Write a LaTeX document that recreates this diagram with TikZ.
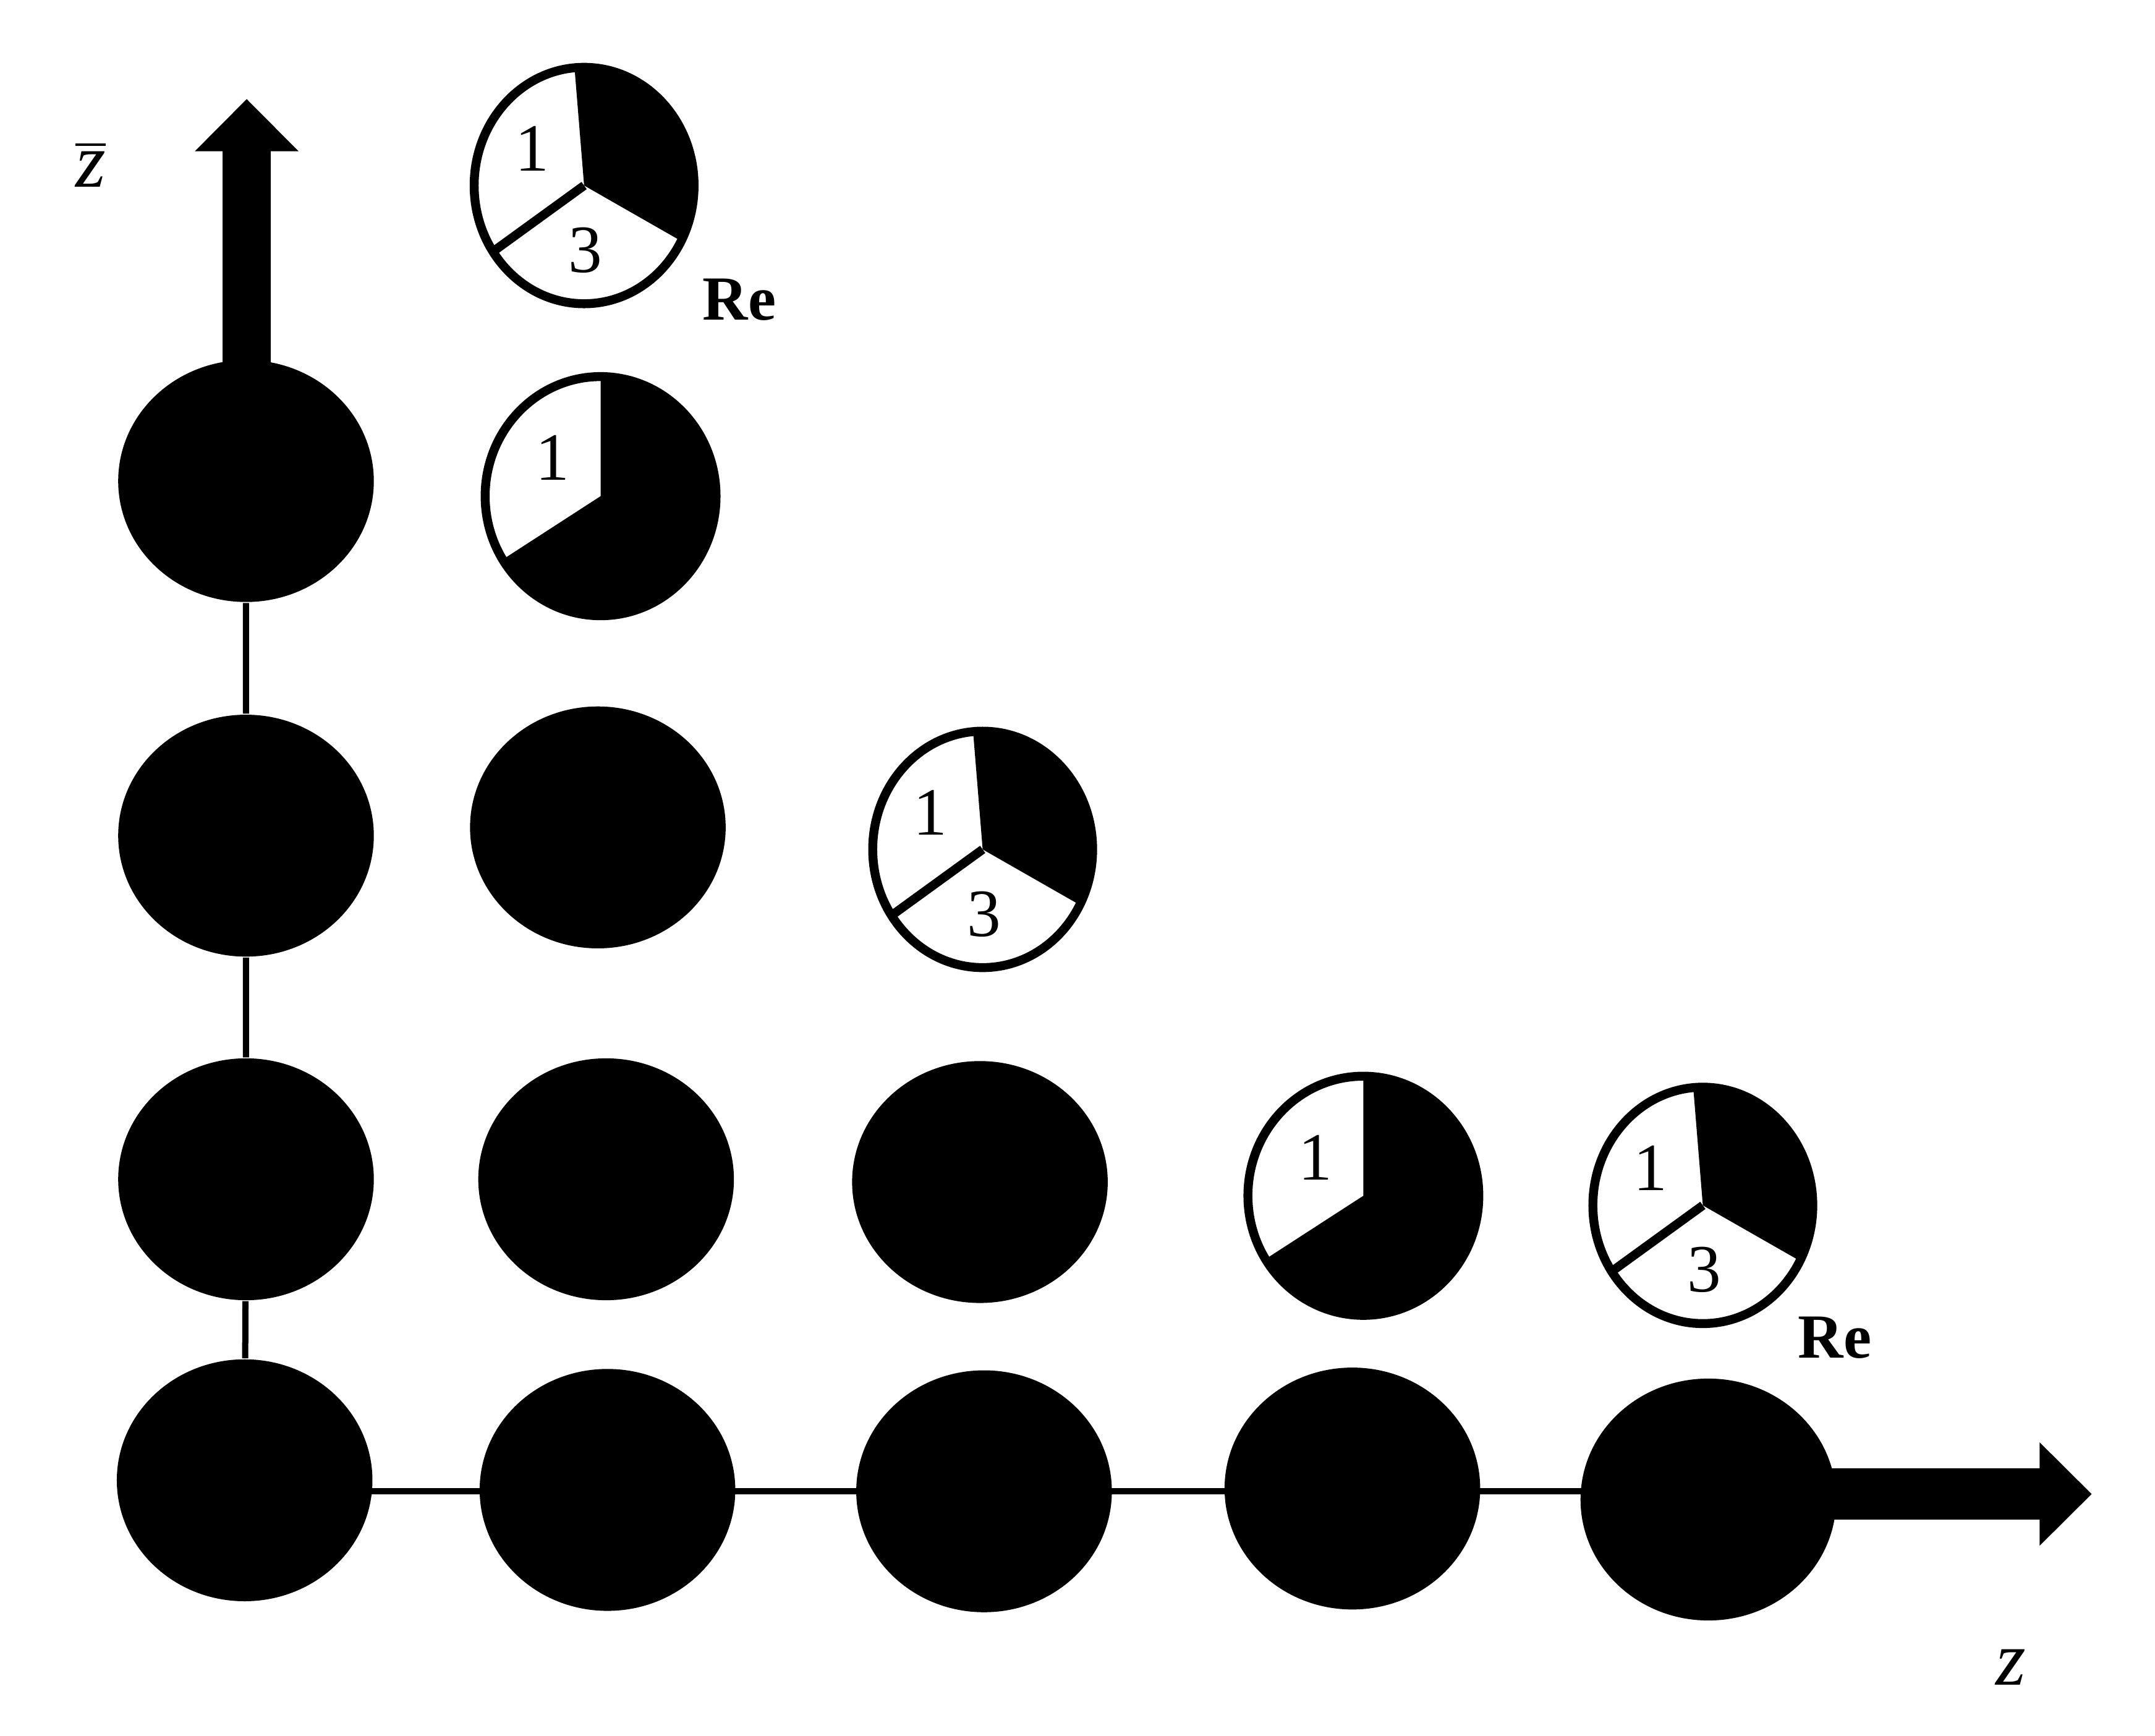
\documentclass[tikz,border=0pt]{standalone}
\usepackage{fontspec}
\setmainfont{Liberation Serif}
\usetikzlibrary{shapes.geometric,arrows.meta}
% weight with sector 1 only, and with sectors 1 and 3
\newcommand{\pieone}[1]{%
  \fill (#1) -- ++(212:84 and 87) arc[start angle=212, end angle=450, x radius=84, y radius=87] -- cycle;
  \draw[ring] (#1) ellipse[x radius=84, y radius=87];
  \node[digit] at ([shift={(-35,28)}]#1) {1};}
\newcommand{\piethree}[1]{%
  \fill (#1) -- ++(-28:80 and 86) arc[start angle=-28, end angle=95, x radius=80, y radius=86] -- cycle;
  \draw[ring] (#1) -- ++(214:80 and 86);
  \draw[ring] (#1) ellipse[x radius=80, y radius=86];
  \node[digit] at ([shift={(-38,27)}]#1) {1};
  \node[digit] at ([shift={(1,-47)}]#1) {3};}
\begin{document}
\begin{tikzpicture}[x=0.1mm, y=0.1mm,
    dot/.style = {ellipse, fill, minimum width=18.6mm, minimum height=17.6mm, inner sep=0pt},
    link/.style = {line width=0.45mm},
    axis/.style = {-{Triangle[width=7.3mm, length=3.8mm]}},
    ring/.style = {line width=0.65mm},
    digit/.style = {font=\fontsize{14}{16}\selectfont, inner sep=0pt},
    lbl/.style = {inner sep=0pt, anchor=base}]
    \useasboundingbox (0,-6) rectangle (1568,1257);
    % filled weights
    \node[dot] (n00) at (178,180) {};
    \node[dot] (n10) at (442,173) {};
    \node[dot] (n20) at (716,172) {};
    \node[dot] (n30) at (984,174) {};
    \node[dot] (n40) at (1243,166) {};
    \node[dot] (n01) at (179,399) {};
    \node[dot] (n11) at (441,399) {};
    \node[dot] (n21) at (713,397) {};
    \node[dot] (n02) at (179,649) {};
    \node[dot] (n12) at (435,655) {};
    \node[dot] (n03) at (179,907) {};
    \path[link, draw]
        (n00) -- (n01) -- (n02) -- (n03)
        (n00 |- n20) -- (n40 |- n20);
    % axes
    \coordinate (zbtip) at (179.5,1185);
    \coordinate (ztip) at (1522,170);
    \draw[axis, line width=3.5mm] (zbtip |- n03) -- (zbtip);
    \draw[axis, line width=3.7mm] (n40 |- ztip) -- (ztip);
    \node[lbl] (zb) at (66,1121) {$\overline{\mbox{\fontsize{16}{18}\selectfont\itshape z}}$};
    \node[lbl] (z) at (1463,31) {\fontsize{16}{18}\selectfont\itshape z};
    % partly filled weights
    \coordinate (q13) at (437,896);
    \coordinate (q31) at (992,387);
    \coordinate (t04) at (425,1122);
    \coordinate (t22) at (715,639);
    \coordinate (t41) at (1239,380);
    \pieone{q13}
    \pieone{q31}
    \piethree{t04}
    \piethree{t22}
    \piethree{t41}
    \node[lbl] (re1) at (538,1024) {\fontsize{13}{15}\selectfont\bfseries Re};
    \node[lbl] (re2) at (1335,269) {\fontsize{13}{15}\selectfont\bfseries Re};
\end{tikzpicture}
\end{document}
